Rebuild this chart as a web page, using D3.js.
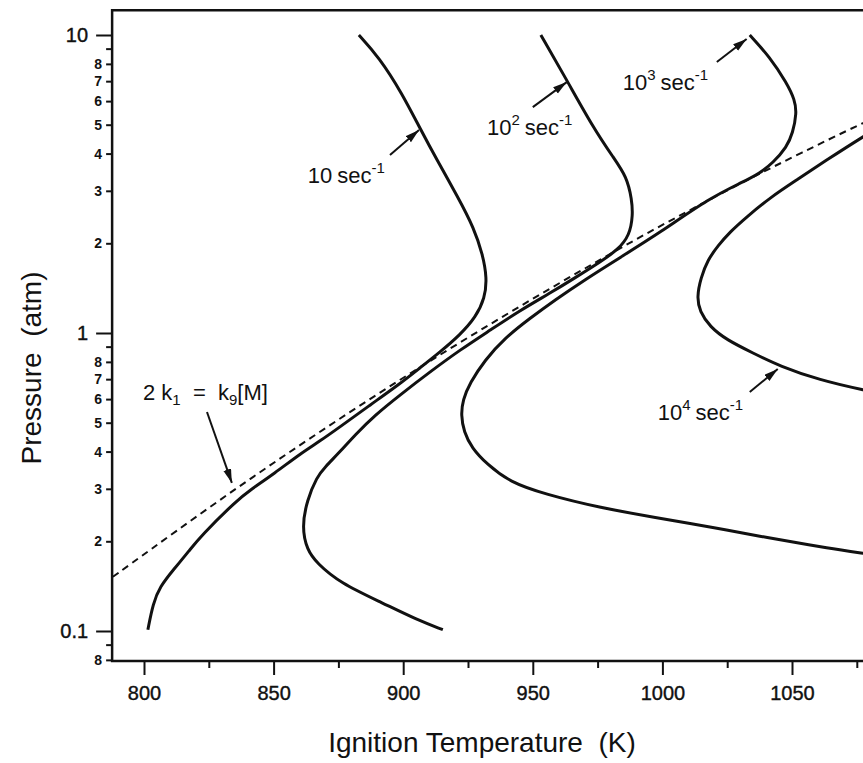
<!DOCTYPE html>
<html>
<head>
<meta charset="utf-8">
<script src="https://cdn.jsdelivr.net/npm/d3@7"></script>
<style>
  body { margin: 0; background: #fff; }
  text { font-family: "Liberation Sans", Arial, sans-serif; fill: #111; }
</style>
</head>
<body>
<svg id="chart" width="863" height="763"></svg>
<script>
// ignition curves, [temperature K, pressure atm]
const tau10 = [[882.9,10.0],[890.6,8.44],[899.5,6.39],[906.8,4.80],[913.0,3.81],[921.1,2.86],[927.3,2.25],
  [930.7,1.83],[932.3,1.53],[931.5,1.31],[928.0,1.13],[921.9,0.985],[914.2,0.863],[906.4,0.763],[898.7,0.675],
  [887.2,0.573],[875.6,0.484],[867.9,0.434],[860.2,0.393],[850.5,0.339],[840.9,0.297],[835.9,0.275],
  [821.6,0.207],[817.7,0.187],[811.2,0.160],[806.2,0.141],[803.5,0.124],[801.5,0.101]];
const tau100 = [[953.1,10.0],[963.1,7.06],[973.2,4.91],[980.9,3.90],[986.3,3.34],[988.2,2.80],[988.6,2.49],
  [987.4,2.13],[982.8,1.90],[975.9,1.73],[966.2,1.53],[956.6,1.36],[945.0,1.19],[933.4,1.02],[921.9,0.877],
  [910.3,0.740],[898.7,0.619],[889.1,0.530],[881.4,0.455],[875.6,0.399],[869.8,0.355],[866.7,0.329],
  [862.9,0.275],[860.9,0.223],[862.9,0.187],[866.7,0.169],[875.6,0.145],[892.2,0.124],[905.3,0.109],[915.3,0.101]];
const tau1000 = [[1033.7,10.0],[1041.4,8.44],[1048.0,6.90],[1051.1,6.05],[1051.8,5.47],[1050.3,4.69],[1048.0,4.21],
  [1042.6,3.72],[1037.6,3.44],[1031.0,3.21],[1018.3,2.84],[999.0,2.17],[983.6,1.79],[970.1,1.51],[958.5,1.29],
  [948.9,1.12],[939.2,0.962],[931.5,0.811],[925.7,0.679],[923.0,0.596],[922.3,0.531],[923.4,0.466],[926.5,0.411],
  [932.3,0.363],[941.1,0.316],[954.6,0.288],[975.9,0.259],[999.0,0.239],[1011.7,0.229],[1024.8,0.218],
  [1037.6,0.208],[1050.3,0.199],[1063.4,0.190],[1076.1,0.183],[1091.6,0.175]];
const tau10000 = [[1091.6,5.43],[1077.3,4.55],[1064.6,3.87],[1051.8,3.26],[1041.4,2.84],[1032.5,2.45],[1026.0,2.18],
  [1021.4,1.96],[1017.5,1.76],[1014.8,1.53],[1013.3,1.32],[1014.4,1.18],[1018.3,1.05],[1024.8,0.948],
  [1034.9,0.857],[1045.3,0.774],[1060.7,0.695],[1077.3,0.644],[1091.6,0.610]];
// 2k1 = k9[M] boundary (dashed)
const limitLine = [[788.0,0.152],[802.3,0.187],[821.6,0.247],[840.9,0.324],[860.2,0.421],[879.4,0.543],
  [898.7,0.696],[918.0,0.887],[937.3,1.12],[956.6,1.41],[975.9,1.76],[995.1,2.19],[1014.4,2.69],
  [1033.7,3.30],[1053.0,4.00],[1077.3,5.07],[1092.0,5.79]];

const xMajor = [800, 850, 900, 950, 1000, 1050];
const xMinor = [825, 875, 925, 975, 1025, 1075];
const yMajor = [0.1, 1, 10];
const yMinor = [0.08,0.09,0.2,0.3,0.4,0.5,0.6,0.7,0.8,0.9,2,3,4,5,6,7,8,9];
const yMinorLabel = {0.08:"8",0.2:"2",0.3:"3",0.4:"4",0.5:"5",0.6:"6",0.7:"7",0.8:"8",2:"2",3:"3",4:"4",5:"5",6:"6",7:"7",8:"8"};

// annotation text: [base, sup, T, P]; arrows: [T0,P0,T1,P1]
const rateLabels = [["10","",863.2,3.19],["10","2",932.3,4.62],["10","3",984.7,6.54],["10","4",998.2,0.511]];
const rateArrows = [[894.9,3.96,906.1,4.80],[950.0,5.73,963.1,6.95],[1021.0,8.12,1032.5,9.70],[1033.7,0.634,1044.5,0.757]];
const limitLabel = [799.6, 0.596];
const limitArrow = [824.3, 0.543, 833.9, 0.314];

const svg = d3.select("#chart");
const x = d3.scaleLinear().domain([800, 1050]).range([144, 792]);
const y = d3.scaleLog().domain([0.1, 10]).range([631, 35]);
const xLo = 787.7, yLo = 0.0793, yHi = 12.1;
const frameL = x(xLo), frameB = y(yLo), frameT = y(yHi), frameR = 863;

svg.append("defs").append("marker")
  .attr("id", "head").attr("markerUnits", "userSpaceOnUse")
  .attr("markerWidth", 15).attr("markerHeight", 10)
  .attr("refX", 14).attr("refY", 4).attr("orient", "auto")
  .append("path").attr("d", "M0,0 L14,4 L0,8 Z").attr("fill", "#111");

const line = d3.line().x(d => x(d[0])).y(d => y(d[1])).curve(d3.curveBasis);

[tau10, tau100, tau1000, tau10000].forEach(c => {
  svg.append("path").datum(c).attr("d", line)
    .attr("fill", "none").attr("stroke", "#111").attr("stroke-width", 3)
    .attr("stroke-linejoin", "round");
});
svg.append("path").datum(limitLine).attr("d", line)
  .attr("fill", "none").attr("stroke", "#111").attr("stroke-width", 2)
  .attr("stroke-dasharray", "7,5");

// frame
svg.append("path")
  .attr("d", `M${frameR},${frameT} H${frameL} V${frameB} H${frameR}`)
  .attr("fill", "none").attr("stroke", "#111").attr("stroke-width", 2.5);

// x axis
const gx = svg.append("g").attr("transform", `translate(0,${frameB})`)
  .call(d3.axisBottom(x).tickValues(xMajor).tickSize(14).tickPadding(11).tickFormat(d3.format("d")));
gx.append("g").call(d3.axisBottom(x).tickValues(xMinor).tickSize(7).tickFormat(""));
gx.selectAll(".domain").remove();
gx.selectAll("line").attr("stroke", "#111").attr("stroke-width", 2);
gx.selectAll("text").attr("font-size", 20).attr("font-family", "Liberation Sans, Arial, sans-serif")
  .attr("fill", "#111").attr("stroke", "#111").attr("stroke-width", 0.4);

// y axis
const gy = svg.append("g").attr("transform", `translate(${frameL},0)`)
  .call(d3.axisLeft(y).tickValues(yMajor).tickSize(16).tickPadding(8).tickFormat(d => d === 0.1 ? "0.1" : String(d)));
gy.append("g").attr("class", "minor").call(d3.axisLeft(y).tickValues(yMinor).tickSize(6).tickPadding(4)
  .tickFormat(d => yMinorLabel[d] || ""));
gy.selectAll(".domain").remove();
gy.selectAll("line").attr("stroke", "#111").attr("stroke-width", 2);
gy.selectAll("text").attr("font-family", "Liberation Sans, Arial, sans-serif").attr("fill", "#111")
  .attr("font-size", 20).attr("stroke", "#111").attr("stroke-width", 0.4);
gy.select(".minor").selectAll("text").attr("font-size", 14).attr("font-weight", "bold").attr("stroke", "none");

// axis titles
svg.append("text").attr("x", 482).attr("y", 752).attr("text-anchor", "middle")
  .attr("font-size", 28).style("white-space", "pre").text("Ignition Temperature  (K)");
svg.append("text").attr("transform", "translate(41,368) rotate(-90)").attr("text-anchor", "middle")
  .attr("font-size", 28).style("white-space", "pre").text("Pressure  (atm)");

// rate labels
rateLabels.forEach(d => {
  const t = svg.append("text").attr("x", x(d[2])).attr("y", y(d[3])).attr("font-size", 22);
  t.append("tspan").text(d[0]);
  if (d[1]) t.append("tspan").attr("dy", -10).attr("font-size", 15).text(d[1]);
  t.append("tspan").attr("dy", d[1] ? 10 : 0).attr("dx", 5).text("sec");
  t.append("tspan").attr("dy", -10).attr("font-size", 15).text("-1");
});
rateArrows.concat([limitArrow]).forEach(a => {
  svg.append("line")
    .attr("x1", x(a[0])).attr("y1", y(a[1])).attr("x2", x(a[2])).attr("y2", y(a[3]))
    .attr("stroke", "#111").attr("stroke-width", 2).attr("marker-end", "url(#head)");
});

// 2k1 = k9[M]
const lt = svg.append("text").attr("x", x(limitLabel[0])).attr("y", y(limitLabel[1])).attr("font-size", 22)
  .style("white-space", "pre");
lt.append("tspan").text("2 k");
lt.append("tspan").attr("dy", 5).attr("font-size", 15).text("1");
lt.append("tspan").attr("dy", -5).text("  =  k");
lt.append("tspan").attr("dy", 5).attr("font-size", 15).text("9");
lt.append("tspan").attr("dy", -5).text("[M]");
</script>
</body>
</html>
